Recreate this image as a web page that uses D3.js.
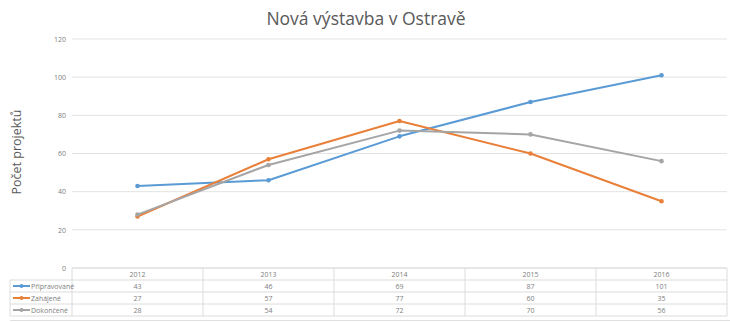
<!DOCTYPE html>
<html><head><meta charset="utf-8">
<script src="https://cdnjs.cloudflare.com/ajax/libs/d3/7.8.5/d3.min.js"></script>
<style>body{margin:0;background:#fff;}svg{display:block;font-family:"Open Sans","Noto Sans",sans-serif;}</style>
</head><body><svg id="c" width="730" height="322"></svg>
<script>
const years = ["2012","2013","2014","2015","2016"];
const seriesNames = ["Připravované","Zahájené","Dokončené"];
const pripravovane = [43,46,69,87,101];
const zahajene = [27,57,77,60,35];
const dokoncene = [28,54,72,70,56];
const colors = ["#5b9bd5","#e8803a","#a5a5a5"];
const yTicks = [0,20,40,60,80,100,120];
const seriesValues = [pripravovane, zahajene, dokoncene];

(function(){
const svg = d3.select("#c");
const pLeft = 72, pRight = 727, pTop = 39, pBottom = 268;
const x = d3.scaleBand().domain(years).range([pLeft, pRight]);
const y = d3.scaleLinear().domain([0,120]).range([pBottom, pTop]);

// title
svg.append("text").attr("x", 366).attr("y", 25).attr("text-anchor","middle")
  .attr("font-size", 17.5).attr("fill","#595959").text("Nová výstavba v Ostravě");
// y title
svg.append("text").attr("transform","translate(21,152) rotate(-90)").attr("text-anchor","middle")
  .attr("font-size", 12.5).attr("fill","#595959").text("Počet projektů");

// gridlines
svg.append("g").selectAll("line").data(yTicks).join("line")
  .attr("x1", pLeft).attr("x2", pRight).attr("y1", d=>y(d)).attr("y2", d=>y(d))
  .attr("stroke","#e3e3e3").attr("stroke-width",1);

// y axis labels
const yAxis = d3.axisLeft(y).tickValues(yTicks).tickSize(0).tickPadding(6);
const ga = svg.append("g").attr("transform",`translate(${pLeft},0)`).call(yAxis);
ga.select(".domain").remove();
ga.selectAll("text").attr("font-size",7).attr("fill","#808080").attr("font-family","'Open Sans','Noto Sans',sans-serif");

// lines
const line = d3.line().x((d,i)=>x(years[i])+x.bandwidth()/2).y(d=>y(d));
seriesValues.forEach((vals, si) => {
  svg.append("path").datum(vals).attr("d", line).attr("fill","none")
    .attr("stroke", colors[si]).attr("stroke-width", 2).attr("stroke-linejoin","round");
  svg.append("g").selectAll("circle").data(vals).join("circle")
    .attr("cx",(d,i)=>x(years[i])+x.bandwidth()/2).attr("cy", d=>y(d)).attr("r",2.3)
    .attr("fill", colors[si]);
});

// data table
const rowH = 12;
const tableTop = pBottom;
const legendLeft = 10;
const tg = svg.append("g");
const border = "#dcdcdc";
tg.append("line").attr("x1",pLeft).attr("x2",pRight).attr("y1",tableTop).attr("y2",tableTop).attr("stroke",border);
for (let r=1; r<=4; r++) {
  tg.append("line").attr("x1",legendLeft).attr("x2",pRight)
    .attr("y1",tableTop+r*rowH).attr("y2",tableTop+r*rowH).attr("stroke",border);
}
years.forEach((yr)=>{
  tg.append("line").attr("x1",x(yr)).attr("x2",x(yr)).attr("y1",tableTop).attr("y2",tableTop+4*rowH).attr("stroke",border);
});
tg.append("line").attr("x1",pRight).attr("x2",pRight).attr("y1",tableTop).attr("y2",tableTop+4*rowH).attr("stroke",border);
tg.append("line").attr("x1",legendLeft).attr("x2",legendLeft).attr("y1",tableTop+rowH).attr("y2",tableTop+4*rowH).attr("stroke",border);
tg.selectAll("text.yr").data(years).join("text").attr("class","yr")
  .attr("x", d=>x(d)+x.bandwidth()/2).attr("y", tableTop+rowH/2+2.5).attr("text-anchor","middle")
  .attr("font-size",7).attr("fill","#808080").text(d=>d);
seriesValues.forEach((vals, si)=>{
  const cy = tableTop + (si+1)*rowH + rowH/2;
  tg.append("g").selectAll("text").data(vals).join("text")
    .attr("x",(d,i)=>x(years[i])+x.bandwidth()/2).attr("y", cy+2.5).attr("text-anchor","middle")
    .attr("font-size",7).attr("fill","#808080").text(d=>d);
  tg.append("line").attr("x1",legendLeft+3).attr("x2",legendLeft+20).attr("y1",cy).attr("y2",cy)
    .attr("stroke",colors[si]).attr("stroke-width",2);
  tg.append("circle").attr("cx",legendLeft+11.5).attr("cy",cy).attr("r",2).attr("fill",colors[si]);
  tg.append("text").attr("x",legendLeft+21).attr("y",cy+2.5).attr("font-size",7)
    .attr("fill","#808080").text(seriesNames[si]);
});
svg.append("line").attr("x1",legendLeft).attr("x2",730).attr("y1",320.5).attr("y2",320.5).attr("stroke","#e0e0e0");
})();
</script></body></html>
